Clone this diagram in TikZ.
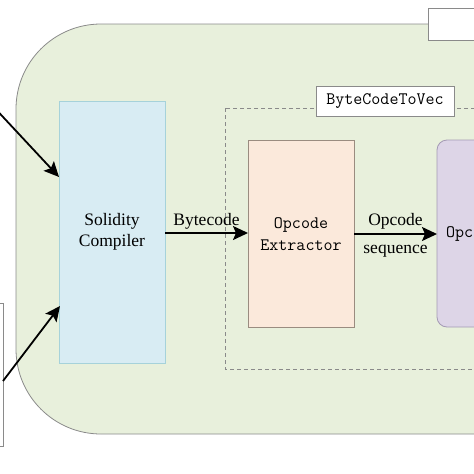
\documentclass[tikz,border=0pt]{standalone}
\usepackage{fontspec}
\setmainfont{Liberation Serif}
\usetikzlibrary{arrows.meta}
\definecolor{bggreen}{HTML}{E8F0DC}
\definecolor{edgegray}{HTML}{8A8A8A}
\definecolor{compfill}{HTML}{D8ECF3}
\definecolor{compedge}{HTML}{A6D2DA}
\definecolor{extfill}{HTML}{FBE9DB}
\definecolor{extedge}{HTML}{9A8C80}
\definecolor{purfill}{HTML}{DDD5E7}
\definecolor{puredge}{HTML}{A49AB4}
\tikzset{
  arr/.style={line width=1.8pt,-{Stealth[length=15pt,width=14pt,inset=3pt]}},
  serf/.style={font=\fontsize{17.5}{21}\selectfont,align=center,inner sep=0pt},
  mono/.style={font=\ttfamily\fontsize{17.5}{22}\selectfont,align=center,inner sep=0pt},
  blk/.style={draw,line width=0.8pt,inner sep=0pt,outer sep=0pt}
}
\begin{document}
\begin{tikzpicture}[x=1pt,y=-1pt]
\useasboundingbox (0,0) rectangle (474,474);
\clip (0,0) rectangle (474,474);
% big rounded container
\draw[fill=bggreen,draw=edgegray,line width=0.8pt,rounded corners=85pt] (16,24) rectangle (600,434);
% top-right white box
\node[blk,draw=edgegray,fill=white,minimum width=100pt,minimum height=32pt,anchor=north west] (tr) at (428,8) {};
% left partial box
\node[blk,draw=edgegray,fill=white,minimum width=80pt,minimum height=143pt,anchor=north east] (lb) at (3,303) {};
% dashed group
\draw[dashed,draw=edgegray,line width=0.8pt,dash pattern=on 4pt off 3pt] (225,108) rectangle (600,369);
\node[blk,draw=edgegray,fill=white,minimum width=138pt,minimum height=30pt,mono] (lbl) at (385,101) {ByteCodeToVec};
% compiler
\node[blk,draw=compedge,fill=compfill,minimum width=106pt,minimum height=262pt,anchor=north west] (comp) at (59,101) {};
\node[serf] (compt) at (112,232) {Solidity\\Compiler};
% extractor
\node[blk,draw=extedge,fill=extfill,minimum width=106pt,minimum height=187pt,anchor=north west] (ext) at (248,140) {};
\node[mono] (extt) at (301,234) {Opcode\\Extractor};
% purple
\draw[fill=purfill,draw=puredge,line width=0.8pt,rounded corners=10pt] (437,140) rectangle (600,327);
\coordinate (pur) at (437,234);
\node[mono,anchor=west] (purt) at (446,234) {Opc};
% arrows
\coordinate (c1) at (59,177);
\coordinate (s1) at (-10,103);
\coordinate (c2) at (60,306);
\coordinate (s2) at (3,381);
\draw[arr] (s1) -- (c1);
\draw[arr] (s2) -- (c2);
\draw[arr] (comp.east |- 0,233) -- (ext.west |- 0,233) node[midway,above=3pt,serf] (bc) {Bytecode};
\draw[arr] (ext.east |- 0,234) -- (pur) node[midway,above=4pt,serf] (oc) {Opcode} node[midway,below=10pt,serf] (sq) {sequence};
\end{tikzpicture}
\end{document}
